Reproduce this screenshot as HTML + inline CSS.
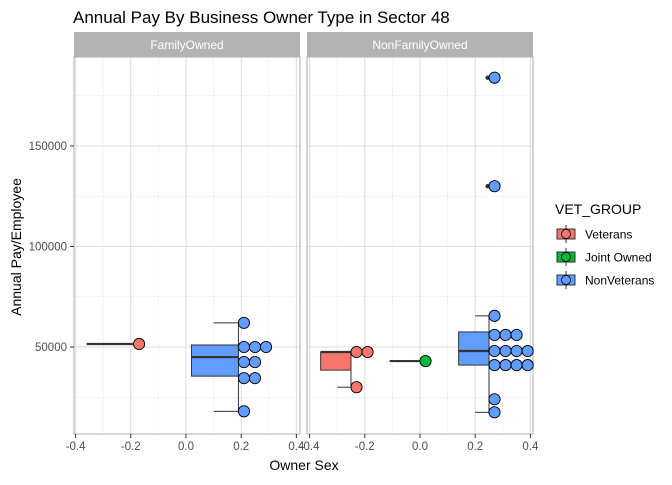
<!DOCTYPE html>
<html><head><meta charset="utf-8"><style>
body{margin:0;background:#fff}
svg{font-family:"Liberation Sans",sans-serif}
</style></head><body>
<svg id="c" width="672" height="480" xmlns="http://www.w3.org/2000/svg">
<text x="73" y="23" font-size="17" fill="#000">Annual Pay By Business Owner Type in Sector 48</text>
<text transform="translate(21,247) rotate(-90)" text-anchor="middle" font-size="14">Annual Pay/Employee</text>
<text x="304" y="470" text-anchor="middle" font-size="14">Owner Sex</text>
<g id="legend">
<text x="555" y="214" font-size="14">VET_GROUP</text>
</g>
</svg>
<script>
const facets=["FamilyOwned","NonFamilyOwned"];
const groups=["Veterans","Joint Owned","NonVeterans"];
const colors=["#F8766D","#00BA38","#619CFF"];
const xTicks=[-0.4,-0.2,0.0,0.2,0.4];
const xTickLabels=["-0.4","-0.2","0.0","0.2","0.4"];
const yTicks=[50000,100000,150000];
const yTickLabels=["50000","100000","150000"];
// boxes: [facet, group, xmin, xmax, q1, median, q3, whiskerLow, whiskerHigh, whiskerLeft]
const boxes=[
 [0,0,-0.36,-0.17,51500,51500,51500,51500,51500,-0.17],
 [0,2,0.02,0.19,35500,45000,51000,18000,62000,0.10],
 [1,0,-0.36,-0.25,38500,47500,47500,30000,47500,-0.30],
 [1,1,-0.11,0.02,43000,43000,43000,43000,43000,0.02],
 [1,2,0.14,0.25,41000,48000,57500,17500,65500,0.20]
];
// dots: [facet, group, x, y]
const dots=[
 [0,0,-0.17,51500],
 [0,2,0.21,62000],[0,2,0.21,50000],[0,2,0.25,50000],[0,2,0.29,50000],
 [0,2,0.21,42500],[0,2,0.25,42500],[0,2,0.21,34500],[0,2,0.25,34500],[0,2,0.21,18000],
 [1,0,-0.23,47500],[1,0,-0.19,47500],[1,0,-0.23,30000],
 [1,1,0.02,43000],
 [1,2,0.27,65500],[1,2,0.27,56000],[1,2,0.31,56000],[1,2,0.35,56000],
 [1,2,0.27,48000],[1,2,0.31,48000],[1,2,0.35,48000],[1,2,0.39,48000],
 [1,2,0.27,41000],[1,2,0.31,41000],[1,2,0.35,41000],[1,2,0.39,41000],
 [1,2,0.27,24000],[1,2,0.27,17500],
 [1,2,0.27,184000],[1,2,0.27,130000]
];
// outliers: [facet, x, y]
const outliers=[[1,0.245,184000],[1,0.245,130000]];

const NS="http://www.w3.org/2000/svg";
const svg=document.getElementById('c');
const panels=[{l:74,r:300},{l:307,r:533}];
const pTop=57,pBot=434;
function X(f,v){const p=panels[f];const c=(p.l+p.r)/2+ (f==0?-1:0);return c+v*276;}
function Y(v){return 347-(v-50000)*0.00201;}
function mk(t,a,parent){const e=document.createElementNS(NS,t);for(const k in a)e.setAttribute(k,a[k]);(parent||svg).appendChild(e);return e;}
const legend=document.getElementById('legend');
facets.forEach((name,f)=>{
 const p=panels[f];
 const g=mk('g',{});
 
 
 mk('rect',{x:p.l,y:pTop,width:p.r-p.l,height:pBot-pTop,fill:'#fff'},g);
 for(let v=-0.3;v<0.45;v+=0.2){mk('line',{x1:X(f,v),x2:X(f,v),y1:pTop,y2:pBot,stroke:'#ebebeb','stroke-width':0.6},g);}
 [25000,75000,125000,175000].forEach(v=>mk('line',{x1:p.l,x2:p.r,y1:Y(v),y2:Y(v),stroke:'#ebebeb','stroke-width':0.6},g));
 xTicks.forEach(v=>mk('line',{x1:X(f,v),x2:X(f,v),y1:pTop,y2:pBot,stroke:'#dedede','stroke-width':1.1},g));
 yTicks.forEach(v=>mk('line',{x1:p.l,x2:p.r,y1:Y(v),y2:Y(v),stroke:'#dedede','stroke-width':1.1},g));
 mk('rect',{x:p.l,y:pTop,width:p.r-p.l,height:pBot-pTop,fill:'none',stroke:'#b3b3b3','stroke-width':1.1},g);
 const s=mk('rect',{x:p.l,y:32,width:p.r-p.l,height:25,fill:'#b3b3b3'});
 
 
 const st=mk('text',{x:(p.l+p.r)/2,y:49,'text-anchor':'middle','font-size':12,fill:'#fff'});
 st.textContent=name;
 
 
 xTicks.forEach((v,i)=>{
  mk('line',{x1:X(f,v),x2:X(f,v),y1:pBot,y2:pBot+4,stroke:'#333'});
  const t=mk('text',{x:X(f,v),y:pBot+16,'text-anchor':'middle','font-size':11.5,fill:'#4d4d4d'});
  t.textContent=xTickLabels[i];
  
  
 });
});
yTicks.forEach((v,i)=>{
 mk('line',{x1:70,x2:74,y1:Y(v),y2:Y(v),stroke:'#333'});
 const t=mk('text',{x:67,y:Y(v)+4,'text-anchor':'end','font-size':11.5,fill:'#4d4d4d'});
 t.textContent=yTickLabels[i];
 
 
});
boxes.forEach(b=>{
 const [f,gi,x0,x1,q1,md,q3,wl,wh,wx]=b;
 const g=mk('g',{});
 
 
 mk('line',{x1:X(f,x1),x2:X(f,x1),y1:Y(wl),y2:Y(wh),stroke:'#333'},g);
 mk('line',{x1:X(f,wx),x2:X(f,x1),y1:Y(wl),y2:Y(wl),stroke:'#333'},g);
 mk('line',{x1:X(f,wx),x2:X(f,x1),y1:Y(wh),y2:Y(wh),stroke:'#333'},g);
 mk('rect',{x:X(f,x0),y:Y(q3),width:X(f,x1)-X(f,x0),height:Math.max(0,Y(q1)-Y(q3)),fill:colors[gi],stroke:'#333','stroke-width':1},g);
 mk('line',{x1:X(f,x0),x2:X(f,x1),y1:Y(md),y2:Y(md),stroke:'#333','stroke-width':2.2},g);
});
outliers.forEach(o=>{
 const c=mk('circle',{cx:X(o[0],o[1]),cy:Y(o[2]),r:2.2,fill:'#333'});
 
 
});
dots.forEach(d=>{
 const c=mk('circle',{cx:X(d[0],d[2]),cy:Y(d[3]),r:5.6,fill:colors[d[1]],stroke:'#000','stroke-width':0.9});
 
 
});
groups.forEach((gname,i)=>{
 const cy=234+i*23;
 const g=mk('g',{},legend);
 
 
 mk('line',{x1:566,x2:566,y1:cy-9,y2:cy+9,stroke:'#333'},g);
 mk('rect',{x:557,y:cy-5,width:18,height:10,fill:colors[i],stroke:'#333'},g);
 mk('circle',{cx:566,cy:cy,r:4.5,fill:colors[i],stroke:'#000','stroke-width':0.8},g);
 const t=mk('text',{x:585,y:cy+4.5,'font-size':12},g);
 t.textContent=gname;
});
</script>
</body></html>
